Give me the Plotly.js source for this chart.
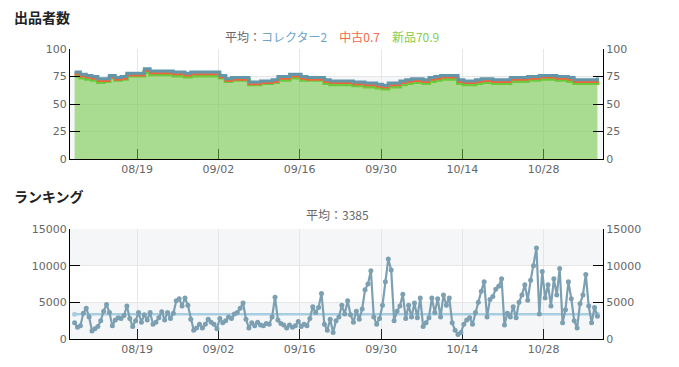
<!DOCTYPE html>
<html>
<head>
<meta charset="utf-8">
<script src="https://cdn.plot.ly/plotly-3.0.1.min.js"></script>
<style>html,body{margin:0;padding:0;background:#fff;}#chart{width:679px;height:367px;}</style>
</head>
<body>
<div id="chart"></div>
<script>
// ---- data ----
const sellerStart = '2024-08-08 06:00';   // first daily sample
const rankStart = '2024-08-08 06:00';     // first 12-hourly sample

const newCount = [
76,74,73,72,70,71,74,72,73,76,
76,76,79,77,77,77,77,76,76,75,
76,76,76,76,76,74,71,72,72,72,
68,68,69,69,70,72,72,74,74,72,
72,72,72,69,68,68,68,68,67,67,
66,66,65,64,66,66,68,69,70,70,
69,71,72,73,73,73,69,68,68,69,
70,70,69,69,69,71,71,71,72,72,
73,73,73,72,72,71,69,69,69,69,71];
const usedCount = [
1,1,1,1,1,0,0,0,0,0,
0,0,1,1,1,1,1,1,1,1,
1,1,1,1,1,0,0,0,0,0,
0,0,0,0,0,1,1,1,1,1,
0,0,0,1,1,1,1,1,1,1,
1,1,1,1,1,1,1,1,1,1,
1,1,1,1,1,1,1,1,1,1,
1,1,1,1,1,1,1,1,1,1,
1,1,1,1,1,1,1,1,1,1,1];
const collectorCount = [
2,2,2,2,2,2,2,2,2,2,
2,2,2,2,2,2,2,2,2,2,
2,2,2,2,2,2,2,2,2,2,
2,2,2,2,2,2,2,2,2,2,
2,2,2,2,2,2,2,2,2,2,
2,2,2,2,2,2,2,2,2,2,
2,2,2,2,2,2,2,2,2,2,
2,2,2,2,2,2,2,2,2,2,
2,2,2,2,2,2,2,2,2,2,2];

const rankValues = [
2200,1600,1800,3500,4200,3000,1100,1400,1700,2500,
3800,4700,3600,1800,2600,2900,2800,3200,4500,2800,
1700,2500,3600,2300,3300,2600,3600,2000,2300,2900,
3700,2600,3600,2800,3500,5200,5500,4500,5600,4600,
2700,1200,1500,2000,1500,2000,2700,2300,2000,1400,
2800,2200,2500,3000,2800,3400,3600,4200,4900,2700,
1500,2200,1800,2300,1900,1800,2100,2000,3000,5700,
2600,2100,1900,1500,1900,1600,1800,2400,1700,2000,
1800,2800,4400,3600,4300,6200,2000,1200,2700,900,
2500,3000,4600,3400,5200,3300,2300,3800,2700,4100,
6700,7500,9300,3000,2000,2800,4600,7800,10900,9400,
2500,3800,4500,6100,2800,4600,3000,4900,2900,5600,
1700,2200,2900,5600,3600,5500,3000,6000,4600,5600,
2200,1200,600,900,2000,2600,2900,2000,3600,5000,
6500,7800,3000,5400,5800,6800,7200,8200,1900,3500,
3000,4400,2900,5000,6000,7400,5300,8000,10000,12400,
3400,9200,5600,7400,4500,8200,6000,9600,2200,4000,
7800,5500,2500,1500,4800,6000,8800,4500,2200,4300,3100];

const avgCollector = 2, avgUsed = 0.7, avgNew = 70.9, avgRank = 3385;
const xTickLabels = ['08/19','09/02','09/16','09/30','10/14','10/28'];

// ---- time grids ----
function timeGrid(start, n, hours){
  const t0 = Date.parse(start.replace(' ','T') + ':00Z');
  const out = [];
  for (let i = 0; i < n; i++) {
    out.push(new Date(t0 + i*hours*3600e3).toISOString().slice(0,16).replace('T',' '));
  }
  return out;
}
const sellerDates = timeGrid(sellerStart, newCount.length, 24);
const rankDates = timeGrid(rankStart, rankValues.length, 12);
const tickVals = xTickLabels.map(s => '2024-' + s.replace('/','-'));

const tickFont = {family:'DejaVu Sans, sans-serif', size:11, color:'#666'};
const xRange = ['2024-08-07 11:00','2024-11-07 05:00'];

const traces = [
  {x:sellerDates, y:newCount, type:'scatter', mode:'lines', stackgroup:'s', line:{color:'#6cc83c', width:4, shape:'hv'}, fillcolor:'rgba(100,195,50,0.52)', xaxis:'x', yaxis:'y', hoverinfo:'skip'},
  {x:sellerDates, y:usedCount, type:'scatter', mode:'lines', stackgroup:'s', line:{color:'#f0643c', width:2, shape:'hv'}, fillcolor:'rgba(240,100,60,0.6)', xaxis:'x', yaxis:'y', hoverinfo:'skip'},
  {x:sellerDates, y:collectorCount, type:'scatter', mode:'lines', stackgroup:'s', line:{color:'#6496aa', width:3, shape:'hv'}, fillcolor:'rgba(100,150,170,0.6)', xaxis:'x', yaxis:'y', hoverinfo:'skip'},
  // invisible carriers so the right-hand axes are drawn
  {x:[sellerDates[40], sellerDates[41]], y:[50, 50], type:'scatter', mode:'lines', line:{width:0, color:'rgba(0,0,0,0)'}, xaxis:'x', yaxis:'y2', hoverinfo:'skip'},
  {x:[rankDates[80], rankDates[81]], y:[7500, 7500], type:'scatter', mode:'lines', line:{width:0, color:'rgba(0,0,0,0)'}, xaxis:'x2', yaxis:'y4', hoverinfo:'skip'},
  {x:[rankDates[0], rankDates[rankDates.length-1]], y:[avgRank, avgRank], type:'scatter', mode:'lines+markers', line:{color:'#a9cde0', width:2.5}, marker:{size:5, color:'#a9cde0'}, xaxis:'x2', yaxis:'y3', hoverinfo:'skip'},
  {x:rankDates, y:rankValues, type:'scatter', mode:'lines+markers', line:{color:'#7ca0b2', width:2.2}, marker:{size:5, color:'#7ca0b2'}, xaxis:'x2', yaxis:'y3', hoverinfo:'skip'}
];

function xAxis(anchor){
  return {type:'date', range:xRange, domain:[0,1], anchor:anchor,
    tickvals:tickVals, ticktext:xTickLabels, ticks:'inside', ticklen:10, tickcolor:'#222', tickwidth:1,
    showline:true, linecolor:'#000', linewidth:1, showgrid:true, gridcolor:'#e6e6e6', gridwidth:1,
    zeroline:false, tickfont:tickFont, layer:'below traces', fixedrange:true};
}
function yAxis(range, dtick, domain, extra){
  return Object.assign({range:range, dtick:dtick, tick0:0, domain:domain, ticks:'inside', ticklen:10, tickcolor:'#000',
    showline:true, linecolor:'#000', linewidth:1, showgrid:true, gridcolor:'#e6e6e6', zeroline:false,
    tickformat:'d', tickfont:tickFont, fixedrange:true}, extra||{});
}

const topDom = [0.6207, 1], botDom = [0, 0.3793];
const layout = {
  width:679, height:367,
  margin:{l:70, r:76, t:49, b:28},
  paper_bgcolor:'#fff', plot_bgcolor:'#fff',
  showlegend:false,
  xaxis:xAxis('y'),
  xaxis2:xAxis('y3'),
  yaxis:yAxis([0,100], 25, topDom),
  yaxis2:yAxis([0,100], 25, topDom, {overlaying:'y', side:'right', anchor:'x', showgrid:false, layer:'above traces'}),
  yaxis3:yAxis([0,15000], 5000, botDom, {anchor:'x2'}),
  yaxis4:yAxis([0,15000], 5000, botDom, {overlaying:'y3', side:'right', anchor:'x2', showgrid:false}),
  shapes:[
    {type:'rect', xref:'x', yref:'y', x0:xRange[0], x1:xRange[1], y0:0, y1:75, fillcolor:'#f4f6f8', line:{width:0}, layer:'below'},
    {type:'rect', xref:'x2', yref:'y3', x0:xRange[0], x1:xRange[1], y0:0, y1:5000, fillcolor:'#f4f6f8', line:{width:0}, layer:'below'},
    {type:'rect', xref:'x2', yref:'y3', x0:xRange[0], x1:xRange[1], y0:10000, y1:15000, fillcolor:'#f4f6f8', line:{width:0}, layer:'below'}
  ],
  annotations:[
    {xref:'paper', yref:'paper', x:-0.1088, y:1.110, xanchor:'left', yanchor:'middle', showarrow:false,
     text:'<b>出品者数</b>', font:{family:'Noto Sans CJK JP, sans-serif', size:14, color:'#222'}},
    {xref:'paper', yref:'paper', x:0.4916, y:1.0448, xanchor:'center', yanchor:'middle', showarrow:false,
     text:'平均：<span style="color:#6ea6c8">コレクター' + avgCollector + '</span>　<span style="color:#f26a4b">中古' + avgUsed + '</span>　<span style="color:#86cc50">新品' + avgNew + '</span>',
     font:{family:'Noto Sans CJK JP, sans-serif', size:12, color:'#666'}},
    {xref:'paper', yref:'paper', x:-0.1088, y:0.493, xanchor:'left', yanchor:'middle', showarrow:false,
     text:'<b>ランキング</b>', font:{family:'Noto Sans CJK JP, sans-serif', size:14, color:'#222'}},
    {xref:'paper', yref:'paper', x:0.502, y:0.4276, xanchor:'center', yanchor:'middle', showarrow:false,
     text:'平均：' + avgRank, font:{family:'Noto Sans CJK JP, sans-serif', size:12, color:'#666'}}
  ]
};

Plotly.newPlot('chart', traces, layout, {staticPlot:true, displayModeBar:false});
</script>
</body>
</html>
